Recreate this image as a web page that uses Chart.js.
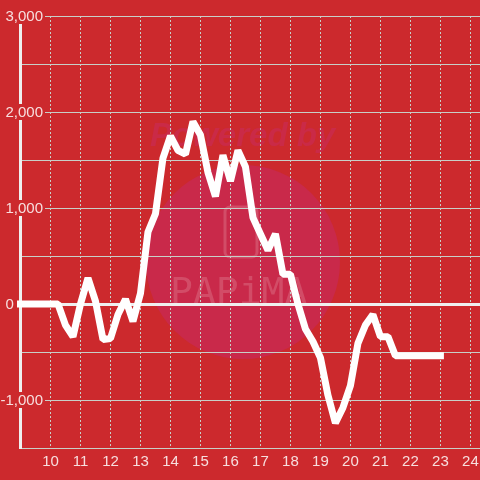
<!DOCTYPE html>
<html>
<head>
<meta charset="utf-8">
<style>
html, body { margin: 0; padding: 0; background: #cc292d; }
canvas { display: block; }
</style>
<script src="https://cdn.jsdelivr.net/npm/chart.js@4/dist/chart.umd.min.js"></script>
</head>
<body>
<canvas id="chart" width="480" height="480"></canvas>
<script>
const hours = [
    9, 9.25, 9.5, 9.75, 10, 10.25, 10.5, 10.75, 11, 11.25, 11.5, 11.75,
    12, 12.25, 12.5, 12.75, 13, 13.25, 13.5, 13.75, 14, 14.25, 14.5, 14.75,
    15, 15.25, 15.5, 15.75, 16, 16.25, 16.5, 16.75, 17, 17.25, 17.5, 17.75,
    18, 18.25, 18.5, 18.75, 19, 19.25, 19.5, 19.75, 20, 20.25, 20.5, 20.75,
    21, 21.25, 21.5, 21.75, 22, 22.25, 22.5, 22.75, 23
];
const values = [
    0, 0, 0, 0, 0, 0, -220, -340, 0, 270, 30, -370,
    -360, -110, 50, -180, 110, 750, 940, 1520, 1750, 1600, 1560, 1900,
    1760, 1370, 1120, 1550, 1280, 1600, 1430, 900, 730, 560, 730, 310,
    310, 0, -260, -390, -560, -950, -1240, -1080, -850, -410, -220, -110,
    -340, -340, -540, -540, -540, -540, -540, -540, -540
];

const RED = '#cc292d';
const GRID = '#c8cfc8';
const AXIS = '#efefef';
const LABEL = '#f7dede';
const LABEL_FONT = { family: '"Liberation Sans", Arial, sans-serif', size: 15, lineHeight: 1 };

// faint logo sitting behind the grid
const watermark = {
    id: 'watermark',
    beforeDraw(chart) {
        const ctx = chart.ctx;
        ctx.save();
        ctx.fillStyle = '#c9294a';
        ctx.beginPath();
        ctx.arc(243, 262, 97, 0, Math.PI * 2);
        ctx.fill();

        ctx.fillStyle = '#ca2a47';
        ctx.font = 'italic bold 33px "Liberation Sans", Arial, sans-serif';
        ctx.textAlign = 'left';
        ctx.textBaseline = 'alphabetic';
        ctx.fillText('Powered by', 150, 146);

        ctx.strokeStyle = '#d24c67';
        ctx.lineWidth = 3;
        ctx.beginPath();
        ctx.roundRect(225, 207, 32, 50, 5);
        ctx.stroke();

        ctx.fillStyle = '#d24c67';
        ctx.font = '38px "DejaVu Sans Mono", monospace';
        ctx.fillText('PAPiMA', 170, 304);
        ctx.restore();
    }
};

new Chart(document.getElementById('chart'), {
    type: 'line',
    data: {
        datasets: [{
            data: hours.map((h, i) => ({ x: h, y: values[i] })),
            borderColor: '#ffffff',
            borderWidth: 7,
            borderCapStyle: 'square',
            borderJoinStyle: 'bevel',
            tension: 0,
            pointRadius: 0,
            clip: false
        }]
    },
    options: {
        responsive: false,
        animation: false,
        layout: { autoPadding: false, padding: { top: 16 } },
        plugins: { legend: { display: false }, tooltip: { enabled: false } },
        scales: {
            x: {
                type: 'linear',
                min: 9,
                max: 24.32,
                afterFit(scale) {
                    scale.height = 32;
                    scale.paddingLeft = 0;
                    scale.paddingRight = 0;
                },
                border: { color: GRID, width: 1, dash: [2, 2] },
                grid: { color: GRID, lineWidth: 1, drawTicks: false },
                ticks: {
                    stepSize: 1,
                    includeBounds: false,
                    autoSkip: false,
                    maxRotation: 0,
                    padding: 6,
                    color: LABEL,
                    font: LABEL_FONT,
                    callback: v => v === 9 ? '' : String(v)
                }
            },
            y: {
                min: -1500,
                max: 3000,
                afterFit(scale) {
                    scale.width = 20.5;
                    scale._computeLabelArea = () => undefined; // labels run past the axis, don't clip them
                },
                border: { color: AXIS, width: 3 },
                grid: {
                    drawTicks: false,
                    color: c => c.tick.value === 0 ? AXIS : GRID,
                    lineWidth: c => c.tick.value === 0 ? 3 : 1
                },
                ticks: {
                    stepSize: 500,
                    autoSkip: false,
                    padding: -22.5,
                    labelOffset: 1,
                    color: LABEL,
                    font: LABEL_FONT,
                    // the zero label sits left of the axis, the others run across it
                    callback: v => v % 1000 !== 0 ? '' : v === 0 ? '0\u00a0\u00a0\u00a0\u00a0\u00a0\u00a0\u00a0' : v.toLocaleString('en-US'),
                    showLabelBackdrop: c => c.tick.value % 1000 === 0 && c.tick.value !== 0,
                    backdropColor: RED,
                    backdropPadding: { left: 4, right: 2, top: 1.5, bottom: -0.5 }
                }
            }
        }
    },
    plugins: [watermark]
});
</script>
</body>
</html>
